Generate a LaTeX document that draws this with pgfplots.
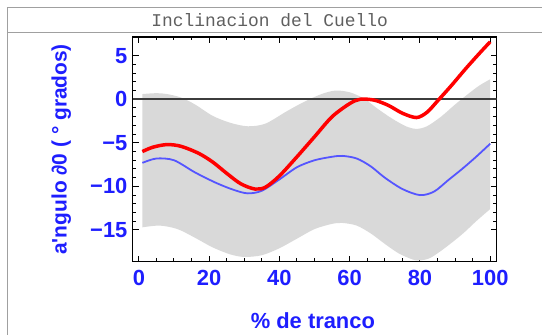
\documentclass[border=0pt]{standalone}
\usepackage{fontspec}
\setmainfont{Liberation Sans}
\newfontfamily\monofont{Liberation Mono}
\usepackage{pgfplots}
\pgfplotsset{compat=1.18}
\usepgfplotslibrary{fillbetween}

\definecolor{bandgray}{RGB}{217,217,217}
\definecolor{meanblue}{RGB}{85,85,255}
\definecolor{labelblue}{RGB}{30,30,255}
\definecolor{framegray}{RGB}{160,160,160}
\definecolor{titlegray}{RGB}{95,95,95}
\definecolor{zerogray}{RGB}{60,60,60}

\begin{document}
\begin{tikzpicture}
\path (-133bp,-73bp) rectangle (409bp,262bp);

% marco de la tabla
\draw[framegray, line width=1bp] (-126bp,254bp) -- (409bp,254bp);
\draw[framegray, line width=1bp] (-126bp,229bp) -- (409bp,229bp);
\draw[framegray, line width=1bp] (-125.5bp,254.5bp) -- (-125.5bp,-73bp);
\node[titlegray, anchor=base, inner sep=0pt, font=\monofont\fontsize{18}{20}\selectfont]
    at (137bp,235.5bp) {Inclinacion del Cuello};

\begin{axis}[
    at={(0,0)}, anchor=south west,
    scale only axis,
    width=364bp, height=225bp,
    xmin=-1.7, xmax=101.8,
    ymin=-18.65, ymax=7.15,
    axis line style={line width=1.2bp},
    tick style={line width=1bp, black},
    tick align=inside,
    tick pos=both,
    major tick length=6bp,
    minor tick length=3.5bp,
    xtick={0,20,...,100},
    minor x tick num=3,
    ytick={-15,-10,-5,0,5},
    yticklabels={−15,−10,−5,0,5},
    minor y tick num=4,
    /pgf/number format/assume math mode=true,
    ticklabel style={font=\fontsize{22}{24}\selectfont\bfseries, text=labelblue},
    yticklabel style={xshift=-2bp},
    xticklabel style={yshift=-5bp},
    xlabel={\% de tranco},
    ylabel={a\textquotesingle ngulo ∂0 ( ° grados)},
    xlabel style={font=\fontsize{22}{24}\selectfont\bfseries, text=labelblue,
        at={(axis description cs:0.495,-0.262)}, anchor=center},
    ylabel style={font=\fontsize{21}{23}\selectfont\bfseries, text=labelblue,
        at={(axis description cs:-0.197,0.5)}, anchor=center},
]

% banda (media +/- desviacion)
\addplot[name path=up, draw=none, smooth] coordinates {
    (1,0.6) (5,0.7) (8,0.6) (12,0.2) (16,-0.6) (21,-1.9) (26,-2.7) (31,-3.1)
    (36,-2.8) (42,-1.4) (47,-0.3) (52,0.6) (56,1.0) (60,0.8) (64,0.1) (68,-1.1)
    (72,-2.2) (76,-3.1) (79,-3.4) (82,-3.1) (86,-2.0) (90,-0.6) (94,0.7)
    (97,1.6) (100,2.3)
};
\addplot[name path=lo, draw=none, smooth] coordinates {
    (1,-14.7) (6,-14.5) (11,-14.9) (16,-15.9) (21,-17.0) (26,-17.8) (30,-18.1)
    (35,-17.9) (40,-17.1) (45,-16.0) (50,-14.9) (55,-14.3) (58,-14.2) (62,-14.5)
    (66,-15.4) (70,-16.6) (74,-17.7) (78,-18.4) (80,-18.5) (83,-18.2) (87,-17.1)
    (92,-15.5) (96,-14.0) (100,-12.6)
};
\addplot[bandgray, draw=none] fill between[of=up and lo];

% linea de cero
\addplot[zerogray, line width=2bp] coordinates {(-1.7,0) (101.8,0)};

% media
\addplot[meanblue, line width=1.8bp, smooth] coordinates {
    (1,-7.3) (5,-6.8) (10,-7.0) (16,-8.4) (22,-9.6) (27,-10.4) (31,-10.8)
    (35,-10.5) (40,-9.2) (45,-7.8) (50,-7.0) (55,-6.6) (58,-6.5) (62,-6.8)
    (66,-7.7) (70,-9.0) (75,-10.3) (80,-11.0) (84,-10.6) (88,-9.3) (92,-8.0)
    (96,-6.6) (100,-5.1)
};

% sujeto
\addplot[red, line width=3.5bp, smooth] coordinates {
    (1,-6.0) (4,-5.5) (8,-5.2) (12,-5.4) (17,-6.2) (21,-7.2) (25,-8.5) (29,-9.7)
    (33,-10.3) (36,-10.1) (40,-8.8) (45,-6.6) (50,-4.3) (55,-2.0) (60,-0.5)
    (63,0.0) (67,-0.1) (71,-0.7) (75,-1.6) (79,-2.1) (82,-1.5) (85,-0.2)
    (89,1.6) (93,3.5) (97,5.3) (100,6.6)
};
\end{axis}
\end{tikzpicture}
\end{document}
